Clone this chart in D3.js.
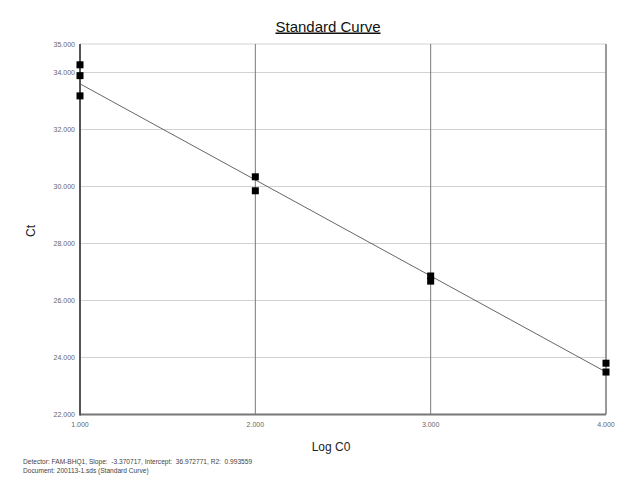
<!DOCTYPE html>
<html><head><meta charset="utf-8">
<script src="https://cdn.jsdelivr.net/npm/d3@7"></script>
<style>body{margin:0;background:#fff;}svg{display:block;font-family:Arial,"Liberation Sans",sans-serif;}</style>
</head><body>
<svg id="c" width="623" height="500"></svg>
<script>
const logC0 = [1, 1, 1, 2, 2, 3, 3, 4, 4];
const ctValues = [34.27, 33.89, 33.18, 30.34, 29.85, 26.86, 26.68, 23.80, 23.49];
const xTicks = [1, 2, 3, 4];
const yTicks = [22, 24, 26, 28, 30, 32, 34, 35];
const slope = -3.370717, intercept = 36.972771, r2 = 0.993559;
const footer = [
  "Detector: FAM-BHQ1, Slope:  -3.370717, Intercept:  36.972771, R2:  0.993559",
  "Document: 200113-1.sds (Standard Curve)"
];

const svg = d3.select("#c");
const x = d3.scaleLinear().domain([1, 4]).range([80, 606]);
const y = d3.scaleLinear().domain([22, 35]).range([414.5, 44]);

// horizontal grid
svg.append("g").selectAll("line").data(yTicks).join("line")
  .attr("x1", x(1)).attr("x2", x(4)).attr("y1", d => y(d)).attr("y2", d => y(d))
  .attr("stroke", "#d2d2d2").attr("stroke-width", 1);
// vertical grid
svg.append("g").selectAll("line").data([2, 3]).join("line")
  .attr("x1", d => x(d)).attr("x2", d => x(d)).attr("y1", y(35)).attr("y2", y(22))
  .attr("stroke", "#7a7a7a").attr("stroke-width", 1);
// right edge
svg.append("line").attr("x1", x(4)).attr("x2", x(4)).attr("y1", y(35)).attr("y2", y(22))
  .attr("stroke", "#9a9a9a").attr("stroke-width", 2);
// bottom axis
svg.append("line").attr("x1", x(1)).attr("x2", x(4)).attr("y1", y(22)).attr("y2", y(22))
  .attr("stroke", "#777").attr("stroke-width", 2);
// left axis
svg.append("line").attr("x1", x(1)).attr("x2", x(1)).attr("y1", y(35)).attr("y2", y(22) + 1)
  .attr("stroke", "#555").attr("stroke-width", 2);

// tick labels
svg.append("g").selectAll("text").data(yTicks).join("text")
  .attr("x", 75).attr("y", d => y(d) + 2.5).attr("text-anchor", "end")
  .attr("font-size", 7).attr("fill", "#666").text(d => d3.format(".3f")(d));
svg.append("g").selectAll("text").data(xTicks).join("text")
  .attr("x", d => x(d)).attr("y", 426.5).attr("text-anchor", "middle")
  .attr("font-size", 7).attr("fill", "#666").text(d => d3.format(".3f")(d));

// regression line
svg.append("line")
  .attr("x1", x(1)).attr("y1", y(slope * 1 + intercept))
  .attr("x2", x(4)).attr("y2", y(slope * 4 + intercept))
  .attr("stroke", "#555").attr("stroke-width", 0.9);

// points
const s = 7;
svg.append("g").selectAll("rect").data(logC0.map((d, i) => [d, ctValues[i]])).join("rect")
  .attr("x", d => x(d[0]) - s / 2).attr("y", d => y(d[1]) - s / 2)
  .attr("width", s).attr("height", s).attr("fill", "#000");

// title
svg.append("text").attr("x", 328).attr("y", 31.5).attr("text-anchor", "middle")
  .attr("font-size", 15).attr("fill", "#111").attr("text-decoration", "underline")
  .text("Standard Curve");
// axis titles
svg.append("text").attr("x", 331).attr("y", 451).attr("text-anchor", "middle")
  .attr("font-size", 12).attr("fill", "#222").text("Log C0");
svg.append("text").attr("transform", "translate(35,231) rotate(-90)").attr("text-anchor", "middle")
  .attr("font-size", 12).attr("fill", "#222").text("Ct");

// footer
svg.append("g").selectAll("text").data(footer).join("text")
  .attr("x", 23).attr("y", (d, i) => 463.5 + i * 9.5)
  .style("white-space", "pre")
  .attr("font-size", 6.6).attr("fill", "#444").text(d => d);
</script>
</body></html>
